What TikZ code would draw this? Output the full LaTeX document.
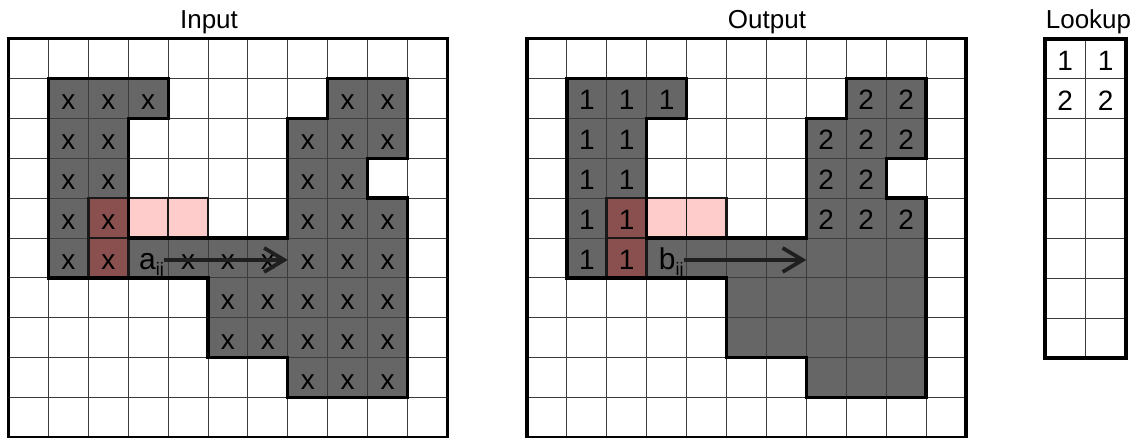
\documentclass[tikz,border=0pt]{standalone}
\usepackage{fontspec}
\setmainfont{Liberation Sans}
\usetikzlibrary{arrows.meta}
\definecolor{shapegray}{HTML}{666666}
\definecolor{maskred}{HTML}{8A4F4F}
\definecolor{maskpink}{HTML}{FFCCCC}
\definecolor{gridcol}{HTML}{3C3C3C}
\begin{document}
\begin{tikzpicture}[x=1pt,y=-1pt,
  gridln/.style={gridcol, line width=0.9pt},
  border/.style={black, line width=3.6pt, line join=miter},
  outline/.style={black, line width=3.2pt, line join=miter},
  maskline/.style={black!90, line width=2.8pt},
  celltxt/.style={font=\fontsize{28}{32}\selectfont, inner sep=0pt, text=black},
  labeltxt/.style={font=\fontsize{30}{34}\selectfont, inner sep=0pt, text=black},
  titletxt/.style={font=\fontsize{26}{30}\selectfont, inner sep=0pt, anchor=base},
  flowarrow/.style={-{Straight Barb[length=20pt,width=24pt]}, line width=3.8pt, black!88}]
\useasboundingbox (0,0) rectangle (1139,438);
\fill[white] (0,0) rectangle (1139,438);

% titles
\node[titletxt] (inTitle) at (209,28.5) {Input};
\node[titletxt] (outTitle) at (767,28.5) {Output};
\node[titletxt] (lkTitle) at (1088.5,28.5) {Lookup};

% ---------- Input grid ----------
\begin{scope}[shift={(8.5,38.5)}, x=39.9pt, y=-39.9pt]
  \fill[shapegray] (1,1) -- (4,1) -- (4,2) -- (3,2) -- (3,5) -- (7,5) -- (7,2) -- (8,2) -- (8,1) -- (10,1) -- (10,3) -- (9,3) -- (9,4) -- (10,4) -- (10,9) -- (7,9) -- (7,8) -- (5,8) -- (5,6) -- (1,6) -- cycle;
  \fill[maskred] (2,4) rectangle (3,6);
  \fill[maskpink] (3,4) rectangle (5,5);
  \foreach \i in {1,...,10} \draw[gridln] (\i,0) -- (\i,10);
  \foreach \j in {1,...,9} \draw[gridln] (0,\j) -- (11,\j);
  \draw[maskline] (2,4) -- (5,4) -- (5,5) -- (3,5) -- (3,6) -- (2,6) -- cycle;
  \draw[maskline, line width=1.5pt] (4,4) -- (4,5);
  \draw[maskline, line width=1.5pt] (2,5) -- (3,5);
  \draw[outline] (1,1) -- (4,1) -- (4,2) -- (3,2) -- (3,5) -- (7,5) -- (7,2) -- (8,2) -- (8,1) -- (10,1) -- (10,3) -- (9,3) -- (9,4) -- (10,4) -- (10,9) -- (7,9) -- (7,8) -- (5,8) -- (5,6) -- (1,6) -- cycle;
  \draw[border] (0,0) rectangle (11,10);
  \foreach \c/\r in {1/1,2/1,3/1,8/1,9/1, 1/2,2/2,7/2,8/2,9/2, 1/3,2/3,7/3,8/3, 1/4,2/4,7/4,8/4,9/4, 1/5,2/5,4/5,5/5,6/5,7/5,8/5,9/5, 5/6,6/6,7/6,8/6,9/6, 5/7,6/7,7/7,8/7,9/7, 7/8,8/8,9/8}
    \node[celltxt, anchor=base] (in-\c-\r) at (\c+0.5,\r+0.79) {x};
  \node[labeltxt, anchor=base west] (aij) at (3.27,5.79) {a\raisebox{-0.2em}{\fontsize{18}{18}\selectfont ij}};
  \coordinate (aend) at (7,5.55);
  \draw[flowarrow] (aij.east |- aend) -- (aend);
\end{scope}

% ---------- Output grid ----------
\begin{scope}[shift={(527,38.5)}, x=39.9pt, y=-39.9pt]
  \fill[shapegray] (1,1) -- (4,1) -- (4,2) -- (3,2) -- (3,5) -- (7,5) -- (7,2) -- (8,2) -- (8,1) -- (10,1) -- (10,3) -- (9,3) -- (9,4) -- (10,4) -- (10,9) -- (7,9) -- (7,8) -- (5,8) -- (5,6) -- (1,6) -- cycle;
  \fill[maskred] (2,4) rectangle (3,6);
  \fill[maskpink] (3,4) rectangle (5,5);
  \foreach \i in {1,...,10} \draw[gridln] (\i,0) -- (\i,10);
  \foreach \j in {1,...,9} \draw[gridln] (0,\j) -- (11,\j);
  \draw[maskline] (2,4) -- (5,4) -- (5,5) -- (3,5) -- (3,6) -- (2,6) -- cycle;
  \draw[maskline, line width=1.5pt] (4,4) -- (4,5);
  \draw[maskline, line width=1.5pt] (2,5) -- (3,5);
  \draw[outline] (1,1) -- (4,1) -- (4,2) -- (3,2) -- (3,5) -- (7,5) -- (7,2) -- (8,2) -- (8,1) -- (10,1) -- (10,3) -- (9,3) -- (9,4) -- (10,4) -- (10,9) -- (7,9) -- (7,8) -- (5,8) -- (5,6) -- (1,6) -- cycle;
  \draw[border] (0,0) rectangle (11,10);
  \foreach \c/\r in {1/1,2/1,3/1, 1/2,2/2, 1/3,2/3, 1/4,2/4, 1/5,2/5}
    \node[celltxt, anchor=base] (out-\c-\r) at (\c+0.5,\r+0.79) {1};
  \foreach \c/\r in {8/1,9/1, 7/2,8/2,9/2, 7/3,8/3, 7/4,8/4,9/4}
    \node[celltxt, anchor=base] (out-\c-\r) at (\c+0.5,\r+0.79) {2};
  \node[labeltxt, anchor=base west] (bij) at (3.3,5.79) {b\raisebox{-0.2em}{\fontsize{18}{18}\selectfont ij}};
  \coordinate (bend) at (7,5.55);
  \draw[flowarrow] (bij.east |- bend) -- (bend);
\end{scope}

% ---------- Lookup table ----------
\begin{scope}[shift={(1045,39)}, x=40.5pt, y=-39.9pt]
  \draw[gridln] (1,0) -- (1,8);
  \foreach \j in {1,...,7} \draw[gridln] (0,\j) -- (2,\j);
  \draw[border] (0,0) rectangle (2,8);
  \node[celltxt, anchor=base] (lk-0-0) at (0.5,0.79) {1};
  \node[celltxt, anchor=base] (lk-1-0) at (1.5,0.79) {1};
  \node[celltxt, anchor=base] (lk-0-1) at (0.5,1.79) {2};
  \node[celltxt, anchor=base] (lk-1-1) at (1.5,1.79) {2};
\end{scope}
\end{tikzpicture}
\end{document}
